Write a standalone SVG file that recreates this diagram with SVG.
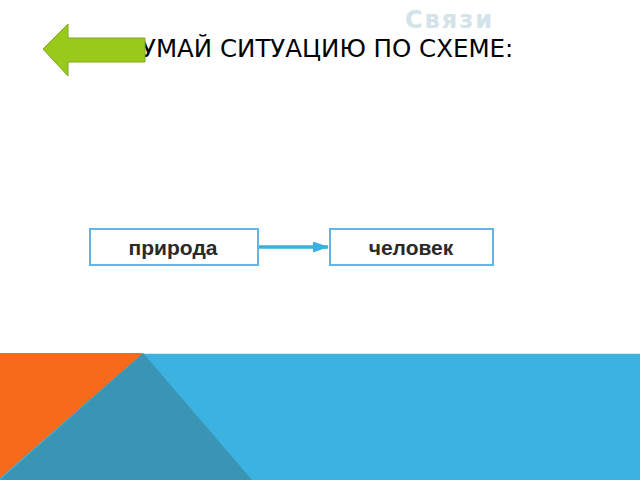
<svg xmlns="http://www.w3.org/2000/svg" width="640" height="480" viewBox="0 0 640 480">
<style>
.box{fill:#fff;stroke:#5DB9E4;stroke-width:2}
.lbl{font-family:"Liberation Sans",Arial,sans-serif;font-weight:bold;font-size:21px;fill:#2a2a2a;text-anchor:middle}
.title{font-family:"DejaVu Sans",sans-serif;font-size:24.5px;fill:#000}
</style>
<defs>
<marker id="ah" markerWidth="16" markerHeight="11" refX="15" refY="5.5" orient="auto" markerUnits="userSpaceOnUse">
<path d="M0,0 L16,5.5 L0,11 z" fill="#3AAFE3"/>
</marker>
</defs>
<rect width="640" height="480" fill="#fff"/>
<g id="footer">
<rect x="0" y="353" width="640" height="127" fill="#3BB2DF"/>
<line x1="0" y1="353.5" x2="640" y2="353.5" stroke="#cfeaf5" stroke-width="1"/>
<polygon points="143,353 252,480 0,480" fill="#3A94B4"/>
<polygon points="0,353 143,353 0,478" fill="#F76A1C"/>
</g>
<text x="405" y="28" font-family="'DejaVu Sans',sans-serif" font-weight="bold" font-size="24" letter-spacing="2" fill="#D3E3EA">Связи</text>
<text class="title" x="141" y="57">УМАЙ СИТУАЦИЮ ПО СХЕМЕ:</text>
<g id="back-button">
<polygon points="43,49 68,24 68,38 145,38 145,62 68,62 68,76" fill="#99C91B" stroke="#7EA818" stroke-width="1"/>
</g>
<g id="connectors">
<line x1="258" y1="247" x2="328" y2="247" stroke="#3AAFE3" stroke-width="3.5" marker-end="url(#ah)"/>
</g>
<g id="node-priroda">
<rect class="box" x="90" y="229" width="168" height="36"/>
<text class="lbl" x="173" y="255">природа</text>
</g>
<g id="node-chelovek">
<rect class="box" x="330" y="229" width="163" height="36"/>
<text class="lbl" x="411" y="255">человек</text>
</g>
</svg>
